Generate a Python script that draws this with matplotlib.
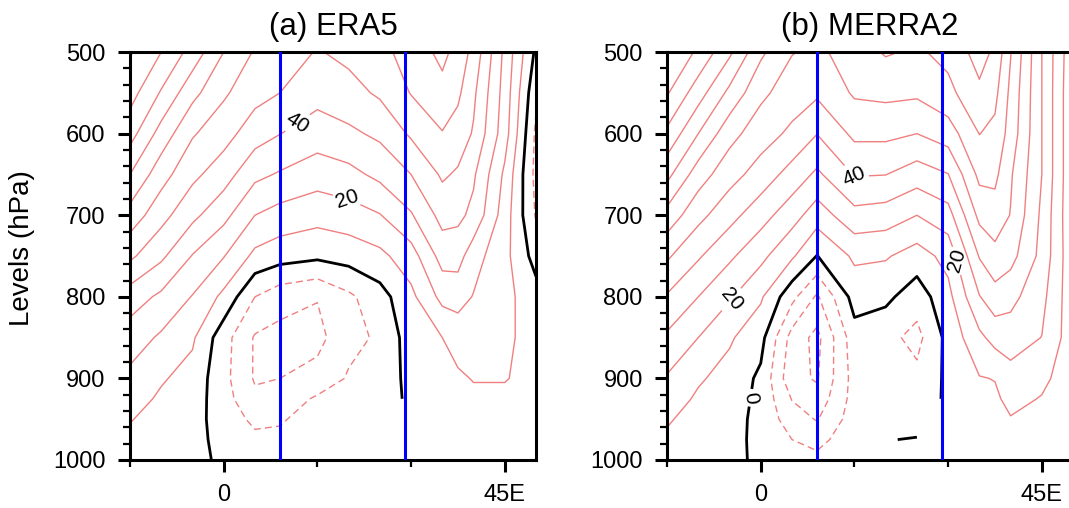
import numpy as np
import matplotlib
matplotlib.use("Agg")
import matplotlib.pyplot as plt
from matplotlib.ticker import FixedLocator, MultipleLocator

plt.rcParams['font.family'] = ['Liberation Sans', 'DejaVu Sans']
plt.rcParams['lines.dashed_pattern'] = [5, 3]

nan = np.nan

lons = [-15, -10, -5, 0, 5, 9, 15, 20, 25, 30, 35, 37.5, 40, 45, 50]
levels = [500, 550, 600, 650, 700, 750, 800, 850, 900, 925, 950, 975, 1000]
box_lons = [9, 29]

# rows = levels, columns = lons
era5 = [
    [111, 100, 86, 70, 59, 55.5, 49.3, 52.5, 57.5, 63.5, 73, 66, 57, 27.5, -2],
    [104, 89, 73, 61.5, 53.5, 50, 43.5, 46.5, 51.5, 60.5, 66.5, 61.9, 52, 26, -8],
    [94, 76, 61, 54, 44.5, 40.2, 35, 38, 42, 51.5, 59.5, 55.9, 49, 24.5, -12],
    [80, 64, 52.5, 44.5, 32.5, 29, 24.5, 27, 32.5, 40, 51.5, 48.6, 41.5, 18, -13],
    [66, 53.5, 42.5, 33, 20, 16.2, 13.5, 15.5, 19.5, 29, 43.5, 42.3, 37.5, 15, -11],
    [52, 42, 29.5, 20.5, 7.5, 4.2, 2, 4, 7.5, 15.5, 34, 34, 24, 13, -4],
    [35, 28, 19.5, 7.5, -10, -16, -19.5, -12, -4, 7.5, 23, 23.8, 19.5, 13, 4],
    [25, 18.5, 11.5, -6, -21, -23, -23, -13, -8.5, 5, 10, 14.2, 14, 12, 6],
    [17.5, 11, 6.5, -7, -21, -20, -16.5, -9, -6, 3, 6, 8.5, 10.5, 10.5, 7],
    [14, 8.5, 5, -6, -18, -16, -8.5, -6, -5, 2, 5, 7, 8, 8, 7],
    [10.5, 6.5, 4, -5, -12, -11, -6, -4, -4, nan, nan, nan, nan, nan, nan],
    [8, 5, 3, -3, -8, -8, -4, -3, -3, nan, nan, nan, nan, nan, nan],
    [5, 3.5, 2, -1.3, -5, -6, -3, -2, -2, nan, nan, nan, nan, nan, nan],
]

merra2 = [
    [121, 108, 92, 72, 60.5, 57.5, 65.5, 71, 68.5, 73, 84, 78, 60.5, 30, 2],
    [111, 94.5, 77.4, 62.3, 54.8, 51.7, 61.3, 62.4, 61.7, 67.2, 78, 72.7, 57.6, 30, 1],
    [97.7, 80, 63.5, 54.4, 48, 40.2, 52.3, 52.4, 50, 55, 70.2, 67.5, 56, 30, 1],
    [83, 64.8, 53.8, 45.8, 36, 28.1, 40.7, 40.2, 35, 39.7, 62.6, 62.4, 51.2, 30, 1],
    [66.4, 53, 43.5, 34, 24.2, 14.7, 26.8, 25.3, 20, 26, 52.8, 55.7, 49.6, 28, 1],
    [51.5, 41.2, 31.8, 22.7, 11.5, -0.3, 11.8, 11, 5.5, 13.3, 40.7, 46.9, 43.5, 27, 2],
    [39, 30, 21.2, 11.4, -7, -21.5, 4.1, 2.3, -5.5, 7, 29.5, 36, 33, 23, 3],
    [28.3, 20, 11.3, 3.4, -24, -33, -4, -7, -13, 3, 17.7, 23.5, 25, 19.8, 4],
    [19, 11.2, 6.5, -2, -27, -31, -6, -6, -7.5, 2, 9.5, 10.3, 16, 12, 5],
    [15, 8.5, 5, -2.5, -20.5, -26.5, -6, -5, -5, 1.5, 7.5, 8.5, 12.5, 9.5, 5],
    [11, 6.5, 4, -3, -15, -20.7, -5, -2, -6, nan, nan, 6, 9.5, 7, 4],
    [8.5, 5, 3, -2.5, -10, -13.6, -3, -0.5, 0.8, nan, nan, nan, nan, nan, nan],
    [6, 3.5, 2, -1.5, -6, -7, -2, nan, nan, nan, nan, nan, nan, nan, nan],
]

red = '#F08080'


def draw_panel(ax, data, title, labels):
    z = np.ma.masked_invalid(np.array(data, dtype=float))
    label_levels = sorted(set(lev for lev, xy in labels))
    pos_levels = [v for v in range(10, 130, 10) if v not in label_levels]
    ax.contour(lons, levels, z, levels=pos_levels, colors=red,
               linewidths=1.0, corner_mask=False)
    ax.contour(lons, levels, z, levels=[-40, -30, -20, -10], colors=red,
               linewidths=1.0, linestyles='dashed', corner_mask=False)
    if 0 not in label_levels:
        ax.contour(lons, levels, z, levels=[0], colors='k', linewidths=2.0,
                   corner_mask=False)
    for lev in label_levels:
        if lev == 0:
            cs = ax.contour(lons, levels, z, levels=[0], colors='k',
                            linewidths=2.0, corner_mask=False)
        else:
            cs = ax.contour(lons, levels, z, levels=[lev], colors=red,
                            linewidths=1.0, corner_mask=False)
        spots = [xy for l, xy in labels if l == lev]
        ax.clabel(cs, manual=spots, fmt='%d', fontsize=15, colors='k',
                  inline=True, inline_spacing=3)
    for lon in box_lons:
        ax.axvline(lon, color='#0000FF', lw=2.2, zorder=5)

    ax.set_xlim(-15, 50)
    ax.set_ylim(1000, 500)
    ax.set_xticks([0, 45])
    ax.set_xticklabels(['0', '45E'])
    ax.xaxis.set_minor_locator(FixedLocator([-15, 15, 30]))
    ax.set_yticks(range(500, 1001, 100))
    ax.yaxis.set_minor_locator(MultipleLocator(20))
    ax.tick_params(which='major', length=8.5, width=2.2, direction='out',
                   labelsize=17, top=False, right=False)
    ax.tick_params(axis='y', which='major', pad=9)
    ax.tick_params(axis='x', which='major', pad=9)
    ax.tick_params(which='minor', length=5, width=1.6, direction='out',
                   top=False, right=False)
    for s in ax.spines.values():
        s.set_linewidth(2.2)
    ax.set_title(title, fontsize=22.5, pad=12)


fig = plt.figure(figsize=(10.69, 5.08), dpi=100)
ax1 = fig.add_axes([0.1216, 0.0945, 0.3798, 0.803])
ax2 = fig.add_axes([0.624, 0.0945, 0.3798, 0.803])

draw_panel(ax1, era5, '(a) ERA5', [(40, (12.2, 591)), (20, (19.7, 681))])
draw_panel(ax2, merra2, '(b) MERRA2',
           [(0, (-1.4, 924)), (20, (-4.9, 802)), (40, (14.9, 653)), (20, (30.8, 757))])

ax1.set_ylabel('Levels (hPa)', fontsize=20)
ax1.yaxis.set_label_coords(-0.235, 0.52)

fig.savefig('out.png', dpi=100)
